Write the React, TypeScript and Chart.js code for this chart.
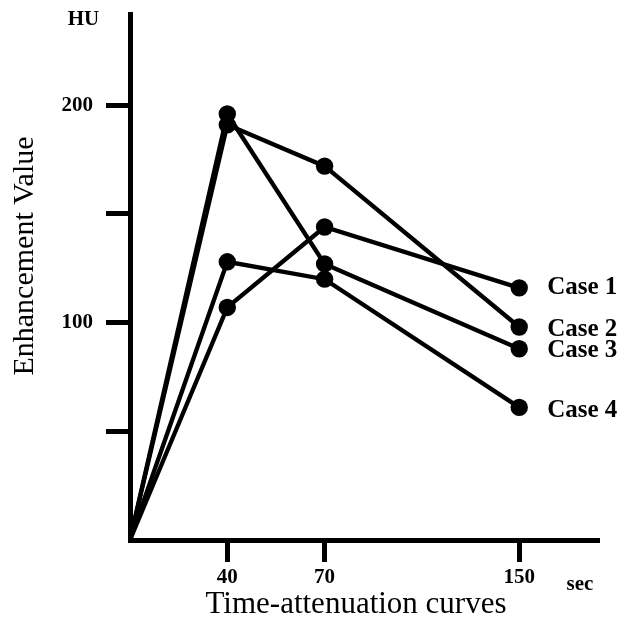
import { useEffect, useRef } from 'react';
import { Chart, registerables } from 'chart.js';

Chart.register(...registerables);

// Scan times (s) and their ordinal slot on the original, non-linear time axis
const timeLabels = ['0', '40', '70', '150'];
const timeSlots = [0, 1, 2, 4];

const caseNames = ['Case 1', 'Case 2', 'Case 3', 'Case 4'];
const case1 = [0, 107, 144, 116];
const case2 = [0, 191, 172, 98];
const case3 = [0, 196, 127, 88];
const case4 = [0, 128, 120, 61];
const caseSeries = [case1, case2, case3, case4];

const yTickValues = [50, 100, 150, 200];
const yTickLabels = ['', '100', '', '200'];
const yMax = 242;
const xMax = 4.82;

const SERIF = '"Liberation Serif", "Times New Roman", serif';

const labelNudge = [0, 3, 2, 3];

const textPlugin = {
  id: 'textPlugin',
  afterDraw(chart: any) {
    const ctx = chart.ctx;
    const area = chart.chartArea;
    ctx.save();
    ctx.fillStyle = '#000';

    // Case labels next to last points
    ctx.font = `bold 25px ${SERIF}`;
    ctx.textAlign = 'left';
    ctx.textBaseline = 'middle';
    chart.data.datasets.forEach((ds: any, i: number) => {
      const meta = chart.getDatasetMeta(i);
      const last = meta.data[meta.data.length - 1];
      ctx.fillText(ds.label, last.x + 28, last.y + labelNudge[i]);
    });

    // Units
    ctx.font = `bold 21px ${SERIF}`;
    ctx.textAlign = 'center';
    ctx.fillText('HU', area.left - 46.5, area.top + 6);
    ctx.fillText('sec', area.right - 19, area.bottom + 45);

    // Axis titles
    ctx.font = `31px ${SERIF}`;
    ctx.textBaseline = 'alphabetic';
    ctx.fillText('Time-attenuation curves', 356, 613);
    ctx.save();
    ctx.translate(25, 256);
    ctx.rotate(-Math.PI / 2);
    ctx.textBaseline = 'middle';
    ctx.font = `30px ${SERIF}`;
    ctx.fillText('Enhancement Value', 0, 0);
    ctx.restore();

    ctx.restore();
  },
};

export default function App() {
  const ref = useRef<HTMLCanvasElement>(null);

  useEffect(() => {
    const canvas = ref.current;
    if (!canvas) return;
    const chart = new Chart(canvas, {
      type: 'line',
      data: {
        datasets: caseSeries.map((vals, i) => ({
          label: caseNames[i],
          data: vals.map((v, j) => ({ x: timeSlots[j], y: v })),
          borderColor: '#000',
          backgroundColor: '#000',
          borderWidth: 4.3,
          pointRadius: (c: any) => (c.dataIndex === 0 ? 0 : 8.7),
          pointBackgroundColor: '#000',
          pointBorderWidth: 0,
          tension: 0,
          clip: false as any,
        })),
      },
      options: {
        responsive: false,
        animation: false,
        devicePixelRatio: 1,
        layout: { padding: { top: 14, right: 25, left: 0, bottom: 0 } },
        plugins: {
          legend: { display: false },
          tooltip: { enabled: false },
        },
        scales: {
          x: {
            type: 'linear',
            min: 0,
            max: xMax,
            afterBuildTicks: (s: any) => {
              s.ticks = timeSlots.slice(1).map((v) => ({ value: v }));
            },
            afterFit: (s: any) => {
              s.height = 81;
              s.paddingLeft = 0;
              s.paddingRight = 0;
            },
            ticks: {
              color: '#000',
              font: { family: SERIF, size: 21, weight: 'bold' },
              padding: 3,
              maxRotation: 0,
              callback: (v: any) => {
                const idx = timeSlots.indexOf(Number(v));
                return idx >= 0 ? timeLabels[idx] : '';
              },
            },
            grid: {
              drawOnChartArea: false,
              drawTicks: true,
              tickLength: 22,
              tickWidth: 5,
              tickColor: '#000',
            },
            border: { display: true, color: '#000', width: 5 },
          },
          y: {
            type: 'linear',
            min: 0,
            max: yMax,
            afterBuildTicks: (s: any) => {
              s.ticks = yTickValues.map((v) => ({ value: v }));
            },
            afterFit: (s: any) => {
              s.width = 130;
              s.paddingTop = 0;
              s.paddingBottom = 0;
            },
            ticks: {
              color: '#000',
              font: { family: SERIF, size: 21, weight: 'bold' },
              padding: 13,
              callback: (v: any) => {
                const idx = yTickValues.indexOf(Number(v));
                return idx >= 0 ? yTickLabels[idx] : '';
              },
            },
            grid: {
              drawOnChartArea: false,
              drawTicks: true,
              tickLength: 24,
              tickWidth: 5,
              tickColor: '#000',
            },
            border: { display: true, color: '#000', width: 5 },
          },
        },
      },
      plugins: [textPlugin],
    });
    return () => chart.destroy();
  }, []);

  return (
    <div style={{ position: 'fixed', left: 0, top: 0, width: 624, height: 621, background: '#fff' }}>
      <canvas ref={ref} width={624} height={621} style={{ display: 'block' }} />
    </div>
  );
}
